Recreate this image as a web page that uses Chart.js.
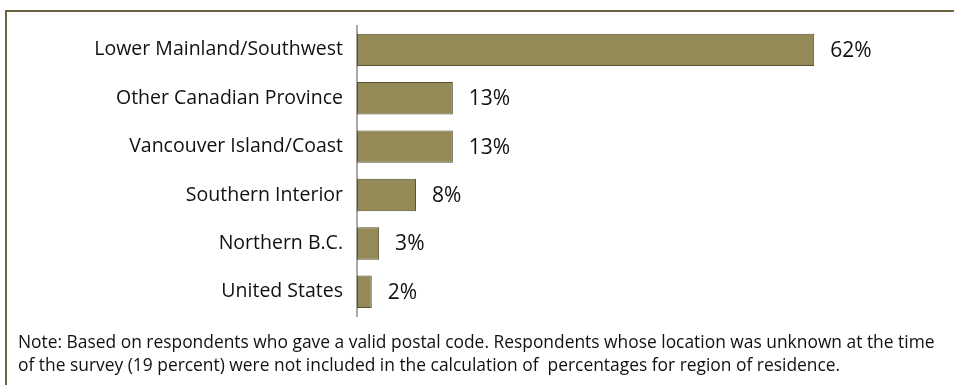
<!DOCTYPE html>
<html>
<head>
<meta charset="utf-8">
<script src="https://cdn.jsdelivr.net/npm/chart.js@4.4.1/dist/chart.umd.min.js"></script>
<style>
  html, body { margin: 0; padding: 0; background: #fff; }
  #wrap { position: relative; width: 954px; height: 385px; }
  #frame { position: absolute; left: 5px; top: 10px; right: -2px; bottom: -2px;
           border-top: 2px solid #6d6240; border-left: 2px solid #6d6240; }
  #note { position: absolute; left: 18px; top: 330px; font-family: "Open Sans", sans-serif;
          font-size: 17.4px; line-height: 23px; color: #111; white-space: nowrap; }
</style>
</head>
<body>
<div id="wrap">
  <div id="frame"></div>
  <canvas id="regionChart" width="954" height="385"></canvas>
  <div id="note">Note: Based on respondents who gave a valid postal code. Respondents whose location was unknown at the time<br>of the survey (19 percent) were not included in the calculation of&nbsp; percentages for region of residence.</div>
</div>
<script>
// region of residence, percent of respondents
const regions = ['Lower Mainland/Southwest', 'Other Canadian Province', 'Vancouver Island/Coast',
                 'Southern Interior', 'Northern B.C.', 'United States'];
const shares = [62, 13, 13, 8, 3, 2];

// write the percentage just past the end of each bar
const valueLabels = {
  id: 'valueLabels',
  afterDatasetsDraw(chart) {
    const ctx = chart.ctx;
    const meta = chart.getDatasetMeta(0);
    ctx.save();
    ctx.font = '21px "Open Sans", sans-serif';
    ctx.fillStyle = '#111';
    ctx.textBaseline = 'middle';
    meta.data.forEach((bar, i) => {
      ctx.fillText(shares[i] + '%', bar.x + 16, bar.y + 1);
    });
    ctx.restore();
  }
};

new Chart(document.getElementById('regionChart'), {
  type: 'bar',
  data: {
    labels: regions,
    datasets: [{
      data: shares,
      backgroundColor: '#948a58',
      borderColor: '#574f30',
      borderWidth: 1,
      borderSkipped: false,
      barPercentage: 0.67,
      categoryPercentage: 1
    }]
  },
  options: {
    indexAxis: 'y',
    responsive: false,
    animation: false,
    layout: { padding: { top: 20, bottom: 69, right: 86, left: 0 } },
    plugins: { legend: { display: false }, tooltip: { enabled: false } },
    scales: {
      x: { display: false, min: 0, max: 69.3 },
      y: {
        afterFit(scale) { scale.width = 357; },
        grid: { display: false, drawTicks: false },
        border: { display: true, color: '#a8a8a8', width: 2 },
        ticks: {
          padding: 14,
          color: '#111',
          font: { family: '"Open Sans", sans-serif', size: 19.5 }
        }
      }
    }
  },
  plugins: [valueLabels]
});
</script>
</body>
</html>
